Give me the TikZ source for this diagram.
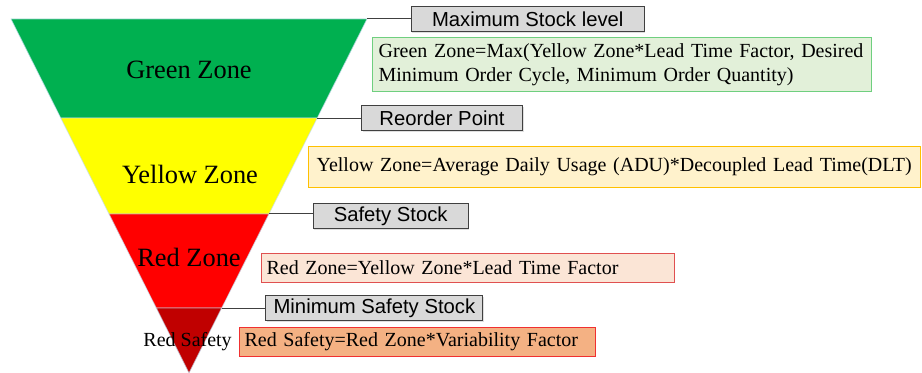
\documentclass[tikz,border=0pt]{standalone}
\usepackage{fontspec}
\setmainfont{Liberation Serif}
\newfontfamily\rotulo{Liberation Sans}
\usetikzlibrary{positioning,calc,shadows}

\definecolor{verde}{HTML}{00B050}
\definecolor{amarillo}{HTML}{FFFF00}
\definecolor{rojo}{HTML}{FF0000}
\definecolor{granate}{HTML}{C00000}
\definecolor{borde}{HTML}{C4DCEE}
\definecolor{gris}{HTML}{D9D9D9}
\definecolor{grisborde}{HTML}{404040}
\definecolor{verdeclaro}{HTML}{E2F0D9}
\definecolor{verdeborde}{HTML}{6FCF7F}
\definecolor{amarilloclaro}{HTML}{FFF2CC}
\definecolor{amarilloborde}{HTML}{FFC000}
\definecolor{rosa}{HTML}{FBE5D6}
\definecolor{rosaborde}{HTML}{E05050}
\definecolor{naranja}{HTML}{F4B183}
\definecolor{naranjaborde}{HTML}{F03030}

\begin{document}
\begin{tikzpicture}[x=0.75pt,y=-0.75pt]
\useasboundingbox (0,0) rectangle (922,373);
%% Draw the buffer zones (inverted triangle)
  \begin{scope}[node distance=32.8pt,
       zona/.style={draw=borde,draw opacity=0.7,line width=0.6pt},
       grande/.style={inner sep=0pt,font=\fontsize{19.8}{23}\selectfont},
       nivel/.style={rectangle,draw=grisborde,fill=gris,line width=0.75pt,
         minimum height=18.75pt,inner sep=2pt,
         font=\rotulo\fontsize{15.2}{18}\selectfont,
         drop shadow={shadow xshift=.8pt,shadow yshift=-.8pt,opacity=.25}},
       formula/.style={rectangle,anchor=north west,align=left,line width=0.9pt,
         inner xsep=4.5pt,font=\fontsize{15}{17.6}\selectfont},]
   \coordinate (arribaizq) at (11,19);
   \coordinate (arribader) at (367,19);
   \coordinate (vertice) at (189,373);
   \coordinate (izq1) at ($(arribaizq)!0.2797!(vertice)$);
   \coordinate (der1) at ($(arribader)!0.2797!(vertice)$);
   \coordinate (izq2) at ($(arribaizq)!0.5508!(vertice)$);
   \coordinate (der2) at ($(arribader)!0.5508!(vertice)$);
   \coordinate (izq3) at ($(arribaizq)!0.8164!(vertice)$);
   \coordinate (der3) at ($(arribader)!0.8164!(vertice)$);
   \filldraw[zona,fill=verde] (arribaizq) -- (arribader) -- (der1) -- (izq1) -- cycle;
   \filldraw[zona,fill=amarillo] (izq1) -- (der1) -- (der2) -- (izq2) -- cycle;
   \filldraw[zona,fill=rojo] (izq2) -- (der2) -- (der3) -- (izq3) -- cycle;
   \filldraw[zona,fill=granate] (izq3) -- (der3) -- (vertice) -- cycle;
   \node [grande,anchor=base] (zverde) at (189,78.3) {Green Zone};
   \node [grande,anchor=base] (zamarilla) at (190,183.3) {Yellow Zone};
   \node [grande,anchor=base] (zroja) at (189,266.7) {Red Zone};
%% Stock levels
   \node [nivel,minimum width=174.75pt] (maximo) [right=of arribader] {Maximum Stock level};
   \node [nivel,minimum width=120.75pt] (reorden) [right=of der1] {Reorder Point};
   \node [nivel,minimum width=116.25pt] (seguridad) [right=of der2,yshift=-1.5pt] {Safety Stock};
   \node [nivel,minimum width=162.75pt] (minimo) [right=of der3] {Minimum Safety Stock};
   \draw[grisborde,line width=0.75pt] (arribader) -- (maximo);
   \draw[grisborde,line width=0.75pt] (der1) -- (reorden);
   \draw[grisborde,line width=0.75pt] (der2) -- (der2 -| seguridad.west);
   \draw[grisborde,line width=0.75pt] (der3) -- (minimo);
%% Zone formulas
   \node [formula,draw=verdeborde,fill=verdeclaro,text width=365.25pt,minimum height=40.5pt] (fverde) at (372,37)
     {\mbox{Green Zone=Max(Yellow Zone*Lead Time Factor, Desired}\\\mbox{Minimum Order Cycle, Minimum Order Quantity)}};
   \node [formula,draw=amarilloborde,fill=amarilloclaro,inner xsep=6pt,text width=447pt,minimum height=30.75pt] (famarilla) at (308,146)
     {\mbox{Yellow Zone=Average Daily Usage (ADU)*Decoupled Lead Time(DLT)}};
   \node [formula,draw=rosaborde,fill=rosa,inner xsep=3.75pt,text width=302.25pt,minimum height=21.75pt] (froja) at (261,253)
     {\mbox{Red Zone=Yellow Zone*Lead Time Factor}};
   \node [formula,draw=naranjaborde,fill=naranja,inner xsep=3.75pt,text width=259.5pt,minimum height=21.75pt] (fseguridad) at (239,327)
     {\mbox{Red Safety=Red Zone*Variability Factor}};
   \node [inner sep=0pt,font=\fontsize{15}{17.6}\selectfont] (rseguridad) [left=5.25pt of fseguridad] {Red Safety};
  \end{scope}
\end{tikzpicture}
\end{document}
